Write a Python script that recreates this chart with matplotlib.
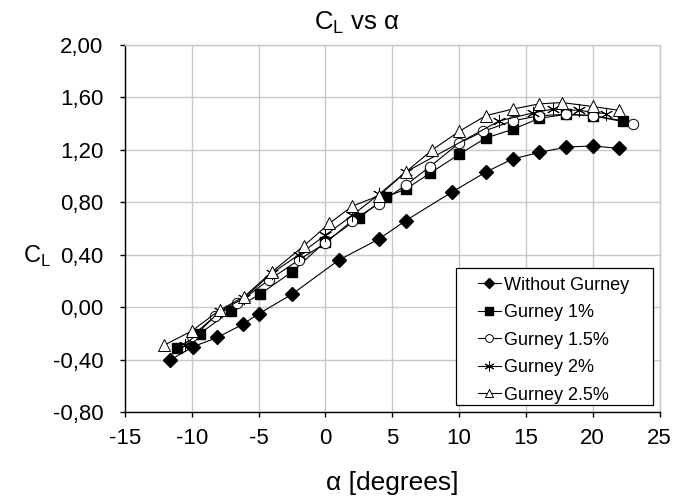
import matplotlib
matplotlib.use("Agg")
import matplotlib.pyplot as plt
from matplotlib.ticker import FixedLocator, FixedFormatter
from matplotlib.patches import Rectangle

plt.rcParams['font.family'] = ['Liberation Sans', 'DejaVu Sans']

# ---- data ----
x_without = [-11.6, -9.9, -8.1, -6.2, -5.0, -2.5, 1.0, 4.0, 6.0, 9.5, 12.0, 14.0, 16.0, 18.0, 20.0, 22.0]
y_without = [-0.40, -0.30, -0.23, -0.13, -0.05, 0.10, 0.36, 0.52, 0.66, 0.88, 1.03, 1.13, 1.18, 1.22, 1.23, 1.21]

x_g10 = [-11.1, -9.4, -7.1, -4.9, -2.5, 0.0, 2.5, 4.5, 6.0, 7.8, 10.0, 12.0, 14.0, 16.0, 18.0, 20.0, 22.3]
y_g10 = [-0.31, -0.20, -0.03, 0.10, 0.27, 0.50, 0.68, 0.84, 0.90, 1.02, 1.165, 1.29, 1.355, 1.44, 1.47, 1.46, 1.42]

x_g15 = [-10.0, -8.3, -6.6, -4.2, -2.0, 0.0, 2.0, 4.0, 6.0, 7.8, 10.0, 11.8, 14.0, 16.0, 18.0, 20.0, 23.0]
y_g15 = [-0.22, -0.07, 0.03, 0.21, 0.36, 0.49, 0.66, 0.79, 0.93, 1.07, 1.25, 1.34, 1.42, 1.46, 1.47, 1.46, 1.40]

x_g20 = [-10.5, -7.9, -6.1, -4.0, -2.0, 0.0, 2.0, 4.0, 6.0, 13.0, 15.5, 17.0, 19.0, 21.0]
y_g20 = [-0.29, -0.03, 0.07, 0.26, 0.40, 0.55, 0.70, 0.86, 1.03, 1.42, 1.48, 1.51, 1.50, 1.475]

x_g25 = [-12.1, -10.0, -7.9, -6.1, -4.0, -1.6, 0.3, 2.0, 4.0, 6.0, 8.0, 10.0, 12.0, 14.0, 16.0, 17.7, 20.0, 22.0]
y_g25 = [-0.29, -0.18, -0.02, 0.08, 0.27, 0.47, 0.64, 0.77, 0.85, 1.03, 1.20, 1.34, 1.46, 1.51, 1.55, 1.56, 1.53, 1.50]

series_labels = ["Without Gurney", "Gurney 1%", "Gurney 1.5%", "Gurney 2%", "Gurney 2.5%"]

x_ticks = [-15, -10, -5, 0, 5, 10, 15, 20, 25]
x_ticklabels = ["-15", "-10", "-5", "0", "5", "10", "15", "20", "25"]
y_ticks = [-0.8, -0.4, 0.0, 0.4, 0.8, 1.2, 1.6, 2.0]
y_ticklabels = ["-0,80", "-0,40", "0,00", "0,40", "0,80", "1,20", "1,60", "2,00"]

# ---- figure ----
fig = plt.figure(figsize=(6.74, 5.0), dpi=100)
ax = fig.add_axes([0.1855, 0.1754, 0.793, 0.735])

lw = 0.8
ax.plot(x_without, y_without, color='black', lw=lw, marker='D', ms=7,
        mfc='black', mec='black', label=series_labels[0], zorder=3)
ax.plot(x_g10, y_g10, color='black', lw=lw, marker='s', ms=7,
        mfc='black', mec='black', label=series_labels[1], zorder=3)
ax.plot(x_g15, y_g15, color='black', lw=lw, marker='o', ms=7.5,
        mfc='white', mec='black', mew=0.7, label=series_labels[2], zorder=3)
ax.plot(x_g20, y_g20, color='black', lw=lw, marker=(6, 2, 0), ms=9.5,
        mfc='none', mec='black', mew=0.7, label=series_labels[3], zorder=3)
ax.plot(x_g25, y_g25, color='black', lw=lw, marker='^', ms=8,
        mfc='white', mec='black', mew=0.7, label=series_labels[4], zorder=3)

ax.set_xlim(-15, 25)
ax.set_ylim(-0.8, 2.0)
ax.xaxis.set_major_locator(FixedLocator(x_ticks))
ax.xaxis.set_major_formatter(FixedFormatter(x_ticklabels))
ax.yaxis.set_major_locator(FixedLocator(y_ticks))
ax.yaxis.set_major_formatter(FixedFormatter(y_ticklabels))

ax.grid(True, color='#c8c8c8', lw=1.0, zorder=0)
ax.set_axisbelow(True)
for s in ['top', 'right']:
    ax.spines[s].set_color('#c8c8c8')
    ax.spines[s].set_linewidth(1.0)
for s in ['left', 'bottom']:
    ax.spines[s].set_color('black')
    ax.spines[s].set_linewidth(1.0)

ax.tick_params(axis='both', labelsize=16, length=3.5, width=1, direction='out')
ax.tick_params(axis='y', pad=12)
ax.tick_params(axis='x', pad=8)

ax.set_title("C$_\\mathregular{L}$ vs α", fontsize=18.5, pad=11, x=0.434)
ax.set_xlabel("α [degrees]", fontsize=19, labelpad=16)
ax.set_ylabel("C$_\\mathregular{L}$", fontsize=17, rotation=0, ha='center', va='center')
ax.yaxis.set_label_coords(-0.165, 0.425)

# legend frame (Excel-like, wide horizontal padding)
box_x0, box_x1 = 0.619, 0.988
box_y0, box_y1 = 0.02, 0.3927
frame = Rectangle((box_x0, box_y0), box_x1 - box_x0, box_y1 - box_y0,
                  transform=ax.transAxes, facecolor='white', edgecolor='black',
                  lw=0.9, zorder=4)
ax.add_patch(frame)
leg = ax.legend(loc='center', bbox_to_anchor=((box_x0 + box_x1) / 2 - 0.002, (box_y0 + box_y1) / 2 - 0.01),
                borderaxespad=0, fontsize=13, frameon=False,
                handlelength=1.3, handletextpad=0.17, labelspacing=0.58,
                borderpad=0, markerscale=0.75)
leg.set_zorder(5)

fig.savefig("out.png", dpi=100)
